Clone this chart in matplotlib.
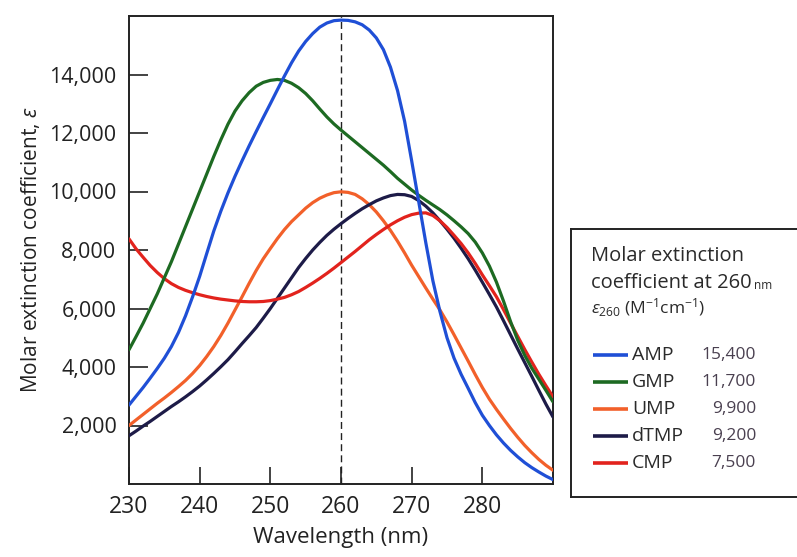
import matplotlib
matplotlib.use("Agg")
import matplotlib.pyplot as plt

plt.rcParams['font.family'] = ['Open Sans', 'DejaVu Sans']
plt.rcParams['mathtext.fontset'] = 'custom'
plt.rcParams['mathtext.rm'] = 'Open Sans'
plt.rcParams['mathtext.it'] = 'Open Sans:italic'

# wavelength grid, 1 nm steps from 230 to 290 nm
wavelength = list(range(230, 291))

amp = [2700, 3000, 3300, 3620, 3950, 4300, 4700, 5180, 5750, 6400,
       7100, 7880, 8650, 9330, 9950, 10520, 11050, 11560, 12050, 12530,
       13000, 13480, 13950, 14400, 14800, 15130, 15400, 15620, 15760, 15840,
       15860, 15850, 15800, 15700, 15520, 15250, 14850, 14250, 13450, 12400,
       11050, 9650, 8250, 6950, 5900, 5000, 4300, 3750, 3270, 2780,
       2350, 2000, 1680, 1400, 1150, 930, 730, 560, 410, 270, 150]
gmp = [4590, 5040, 5500, 6000, 6500, 7050, 7600, 8200, 8800, 9400,
       10000, 10600, 11200, 11770, 12300, 12750, 13100, 13380, 13600, 13730,
       13800, 13830, 13800, 13700, 13550, 13350, 13100, 12820, 12550, 12310,
       12100, 11900, 11700, 11500, 11300, 11100, 10900, 10680, 10450, 10250,
       10050, 9870, 9700, 9540, 9380, 9200, 9000, 8790, 8560, 8270,
       7900, 7450, 6900, 6250, 5550, 4920, 4400, 3960, 3580, 3200, 2810]
ump = [2000, 2190, 2380, 2570, 2760, 2940, 3130, 3330, 3540, 3780,
       4050, 4360, 4700, 5080, 5500, 5950, 6400, 6860, 7300, 7700,
       8050, 8390, 8700, 8970, 9200, 9430, 9620, 9770, 9880, 9960,
       9990, 9970, 9900, 9750, 9550, 9300, 9000, 8670, 8300, 7900,
       7480, 7090, 6700, 6320, 5950, 5540, 5100, 4650, 4200, 3740,
       3300, 2900, 2550, 2220, 1900, 1600, 1320, 1070, 840, 640, 470]
dtmp = [1650, 1810, 1980, 2140, 2310, 2480, 2650, 2810, 2980, 3160,
        3350, 3560, 3780, 4010, 4250, 4520, 4800, 5070, 5350, 5670,
        6000, 6350, 6700, 7050, 7400, 7710, 8000, 8260, 8500, 8710,
        8900, 9080, 9250, 9410, 9550, 9680, 9780, 9860, 9900, 9890,
        9830, 9690, 9500, 9270, 9000, 8710, 8400, 8060, 7700, 7310,
        6900, 6480, 6050, 5580, 5100, 4620, 4150, 3680, 3200, 2730, 2290]
cmp_ = [8380, 8040, 7750, 7470, 7230, 7020, 6850, 6720, 6620, 6540,
        6470, 6410, 6360, 6320, 6290, 6260, 6240, 6230, 6230, 6240,
        6270, 6320, 6380, 6470, 6580, 6720, 6870, 7030, 7200, 7380,
        7570, 7760, 7950, 8150, 8350, 8530, 8700, 8860, 9000, 9120,
        9210, 9260, 9270, 9180, 9000, 8770, 8500, 8220, 7900, 7540,
        7150, 6780, 6400, 5960, 5500, 5050, 4600, 4170, 3750, 3360, 2980]

names = ['AMP', 'GMP', 'UMP', 'dTMP', 'CMP']
series = [amp, gmp, ump, dtmp, cmp_]
eps260 = ['15,400', '11,700', '9,900', '9,200', '7,500']
colors = ['#1f4fd6', '#1d6a22', '#f2602a', '#1d1b48', '#e2231d']

x_ticks = [230, 240, 250, 260, 270, 280]
y_ticks = [2000, 4000, 6000, 8000, 10000, 12000, 14000]
y_ticklabels = ['2,000', '4,000', '6,000', '8,000', '10,000', '12,000', '14,000']

W, H = 797, 557
fig = plt.figure(figsize=(W / 100, H / 100), dpi=100)
fig.patch.set_facecolor('white')

ax = fig.add_axes([129 / W, 1 - 484 / H, (553 - 129) / W, (484 - 16) / H])
order = [2, 3, 4, 1, 0]
for i in order:
    ax.plot(wavelength, series[i], color=colors[i], lw=2.3, zorder=3,
            solid_joinstyle='round', solid_capstyle='round')
ax.axvline(260, color='#222222', lw=1.0, ls=(0, (5, 3)), zorder=2)

ax.set_xlim(230, 290)
ax.set_ylim(0, 16000)
ax.set_xticks(x_ticks)
ax.set_xticklabels([str(t) for t in x_ticks])
ax.set_yticks(y_ticks)
ax.set_yticklabels(y_ticklabels)
ax.tick_params(axis='y', direction='in', length=14, width=1.2, labelsize=15.5, pad=9, colors='#222222')
ax.tick_params(axis='x', direction='in', length=12, width=1.2, labelsize=16.5, pad=8, colors='#222222')
for sp in ax.spines.values():
    sp.set_linewidth(1.4)
    sp.set_color('#222222')
ax.set_xlabel('Wavelength (nm)', fontsize=16, color='#222222', labelpad=6)
ax.set_ylabel(r'Molar extinction coefficient, $\it{\epsilon}$', fontsize=15, color='#222222', labelpad=5)

# legend box
lx0, lx1, ly0, ly1 = 571, 800, 229, 497
lax = fig.add_axes([lx0 / W, 1 - ly1 / H, (lx1 - lx0) / W, (ly1 - ly0) / H])
lax.set_xlim(lx0, lx1)
lax.set_ylim(ly1, ly0)
lax.set_xticks([])
lax.set_yticks([])
for k, sp in lax.spines.items():
    sp.set_linewidth(1.4)
    sp.set_color('#222222')
lax.spines['right'].set_visible(False)
lax.patch.set_alpha(0)

tc = '#2a2a2a'
lax.text(591, 256, 'Molar extinction', fontsize=14.5, color=tc, va='center', ha='left')
t2 = lax.text(591, 283, 'coefficient at 260', fontsize=14.5, color=tc, va='center', ha='left')
lax.text(591, 308, r'$\epsilon_{260}$ (M$^{-1}$cm$^{-1}$)', fontsize=12.5, color=tc, va='center', ha='left')
fig.canvas.draw()
bb = t2.get_window_extent()
fx, fy = bb.x1 + 2, bb.y1 - 6
lax.annotate('nm', xy=(fx / W, fy / H), xycoords='figure fraction', fontsize=8.5, color=tc,
             va='top', ha='left')

row_y = [355, 382, 409, 436, 463]
for i, name in enumerate(names):
    y = row_y[i]
    lax.plot([593, 628], [y, y], color=colors[i], lw=2.6, solid_capstyle='butt')
    lax.text(632, y, name, fontsize=14, color=tc, va='center', ha='left')
    lax.text(756, y, eps260[i], fontsize=12.5, color='#4a4050', va='center', ha='right')

fig.savefig('out.png', dpi=100, facecolor='white')
